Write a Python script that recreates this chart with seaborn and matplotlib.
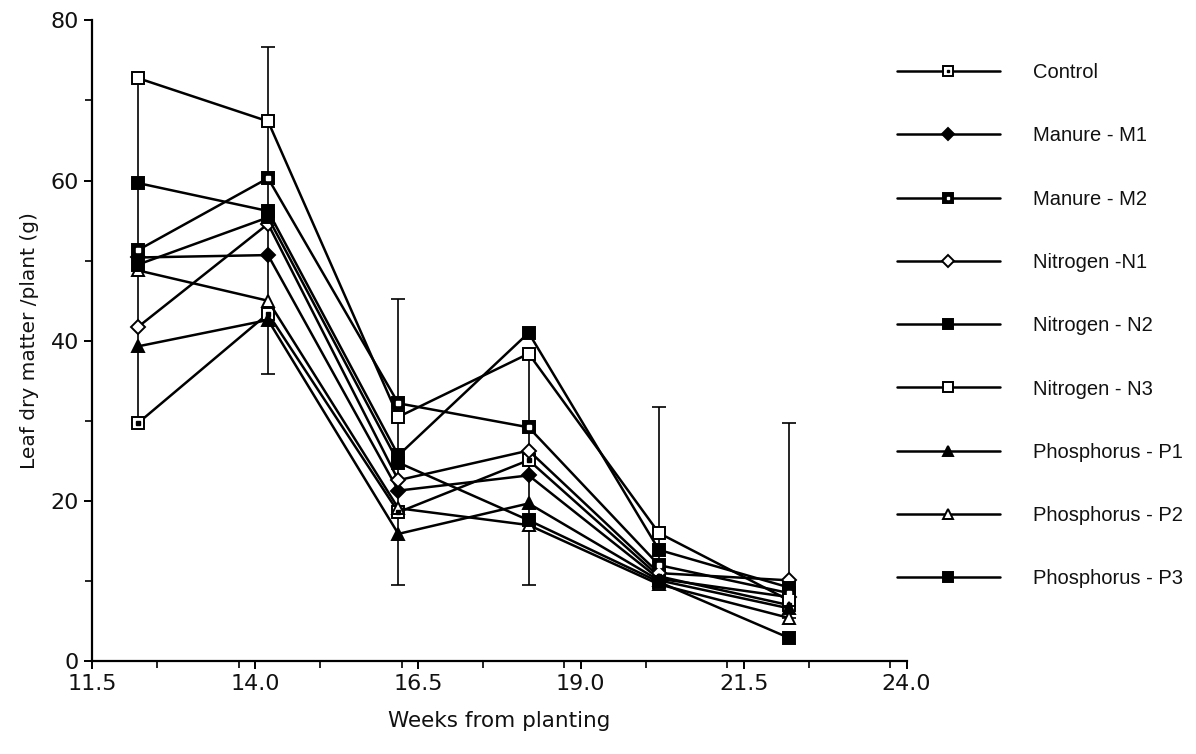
import matplotlib
matplotlib.use("Agg")
import matplotlib.pyplot as plt
from matplotlib.lines import Line2D
from matplotlib.legend_handler import HandlerTuple
from matplotlib.ticker import MultipleLocator, FixedLocator
import numpy as np
import pandas as pd
import seaborn as sns

sns.set_theme(style="white")
plt.rcParams["font.family"] = ["DejaVu Sans"]

# Sampling times (weeks from planting)
weeks = [12.2, 14.2, 16.2, 18.2, 20.2, 22.2]

# Leaf dry matter per plant (g) for each treatment
control = [29.7, 43.4, 18.6, 25.1, 10.6, 7.0]
manure_m1 = [50.4, 50.7, 21.3, 23.2, 10.3, 8.0]
manure_m2 = [51.3, 60.3, 32.2, 29.2, 12.0, 8.5]
nitrogen_n1 = [41.7, 54.6, 22.6, 26.3, 11.0, 10.1]
nitrogen_n2 = [59.7, 56.2, 25.7, 41.0, 13.9, 9.2]
nitrogen_n3 = [72.8, 67.4, 30.5, 38.4, 16.0, 7.6]
phosphorus_p1 = [39.3, 42.6, 15.9, 19.7, 10.1, 6.6]
phosphorus_p2 = [48.8, 45.0, 19.1, 17.0, 9.6, 5.4]
phosphorus_p3 = [49.5, 55.4, 24.8, 17.6, 9.9, 2.9]

# Spread bars at each sampling time
err_low = [29.7, 35.8, 9.5, 9.5, 9.6, 5.4]
err_high = [72.8, 76.7, 45.2, 38.4, 31.8, 29.7]

labels = ["Control", "Manure - M1", "Manure - M2", "Nitrogen -N1", "Nitrogen - N2",
          "Nitrogen - N3", "Phosphorus - P1", "Phosphorus - P2", "Phosphorus - P3"]
series = [control, manure_m1, manure_m2, nitrogen_n1, nitrogen_n2,
          nitrogen_n3, phosphorus_p1, phosphorus_p2, phosphorus_p3]

# marker, face colour, inner dot colour (None = no dot)
styles = [
    ("s", "white", "black"),
    ("D", "black", None),
    ("s", "black", "white"),
    ("D", "white", None),
    ("s", "black", None),
    ("s", "white", None),
    ("^", "black", None),
    ("^", "white", None),
    ("s", "black", None),
]

df = pd.DataFrame({"weeks": np.tile(weeks, len(labels)),
                   "dm": np.concatenate(series),
                   "treatment": np.repeat(labels, len(weeks))})

fig = plt.figure(figsize=(11.96, 7.54), dpi=100)
ax = fig.add_axes([0.077, 0.123, 0.681, 0.850])

# vertical spread bars
mid = (np.array(err_low) + np.array(err_high)) / 2
half = (np.array(err_high) - np.array(err_low)) / 2
ax.errorbar(weeks, mid, yerr=half, fmt="none", ecolor="black",
            elinewidth=1.2, capsize=5, capthick=1.2, zorder=1)

handles = []
for lab, (mk, fc, dot) in zip(labels, styles):
    sub = df[df["treatment"] == lab]
    ms = 8.5 if mk != "D" else 6.8
    sns.lineplot(data=sub, x="weeks", y="dm", ax=ax, color="black",
                 linewidth=1.8, marker=mk, markersize=ms, markerfacecolor=fc,
                 markeredgecolor="black", markeredgewidth=1.4,
                 legend=False, zorder=3)
    h_main = Line2D([], [], color="black", linewidth=1.8, marker=mk,
                    markersize=ms * 0.85, markerfacecolor=fc,
                    markeredgecolor="black", markeredgewidth=1.4)
    if dot is not None:
        ax.plot(sub["weeks"], sub["dm"], linestyle="none", marker="s",
                markersize=2.3, markerfacecolor=dot, markeredgecolor=dot,
                zorder=4)
        h_dot = Line2D([], [], linestyle="none", marker="s", markersize=2.0,
                       markerfacecolor=dot, markeredgecolor=dot)
        handles.append((h_main, h_dot))
    else:
        handles.append(h_main)

ax.set_xlim(11.5, 24.0)
ax.set_ylim(0, 80)
ax.xaxis.set_major_locator(FixedLocator([11.5, 14.0, 16.5, 19.0, 21.5, 24.0]))
ax.xaxis.set_minor_locator(MultipleLocator(1.25))
ax.set_xticklabels(["11.5", "14.0", "16.5", "19.0", "21.5", "24.0"])
ax.yaxis.set_major_locator(MultipleLocator(20))
ax.yaxis.set_minor_locator(MultipleLocator(10))

for side in ["top", "right"]:
    ax.spines[side].set_visible(False)
for side in ["left", "bottom"]:
    ax.spines[side].set_color("black")
    ax.spines[side].set_linewidth(1.6)

ax.tick_params(axis="both", which="major", direction="out", length=6,
               width=1.4, color="black", labelsize=16, labelcolor="#111111",
               bottom=True, left=True)
ax.tick_params(axis="both", which="minor", direction="out", length=5,
               width=1.2, color="black", bottom=True, left=True)

ax.set_xlabel("Weeks from planting", fontsize=15.5, color="#111111", labelpad=12)
ax.set_ylabel("Leaf dry matter /plant (g)", fontsize=14.5, color="#111111", labelpad=8)
ax.set_facecolor("white")
ax.grid(False)

fig.legend(handles, labels, loc="center left", bbox_to_anchor=(0.750, 0.568),
           frameon=False, handlelength=5.1, handletextpad=1.65, labelspacing=2.2,
           borderpad=0, borderaxespad=0,
           handler_map={tuple: HandlerTuple(ndivide=1, pad=0)},
           prop={"family": ["Liberation Sans", "DejaVu Sans"], "size": 14.5},
           labelcolor="#111111")

fig.savefig("out.png", dpi=100, facecolor="white")
